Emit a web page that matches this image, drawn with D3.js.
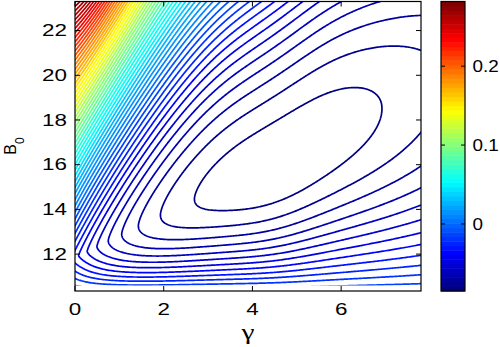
<!DOCTYPE html>
<html><head><meta charset="utf-8">
<script src="https://cdn.jsdelivr.net/npm/d3@7"></script>
<style>body{margin:0;background:#fff}svg{display:block}</style>
</head><body>
<svg id="c" width="500" height="347"></svg>
<script>
// ---------- values ----------
const xTicks = [0, 2, 4, 6];
const yTicks = [12, 14, 16, 18, 20, 22];
const cbTicks = [0, 0.1, 0.2];
const gammaRange = [0, 7.8];
const b0AxisRange = [10.35, 23.3];
const b0DataRange = [10.6, 23.3];
const colorRange = [-0.085, 0.282];
const levelCount = 56;                       // contour levels spanning the colour bar
// shape of the cost surface (in contour-level steps)
const valleyB0 = {a: 11.85, b: 1.0, c: -0.005, dip: 0.45, dipAt: 4.5, dipW: 1.2};
const valleyDepth = {A: 8.46, tau: 1.586, a: 0.078, g0: 2.62, v0: -0.55};
const upperSide = {aInf: 0.11, aFast: 1.98, tFast: 1.0, aSlow: 0.23, tSlow: 3.0, q0: 0.76, tq: 2.0};
const lowerSide = {top: 13, floorB0: 10.3, pw: 2.15, pwDrop: 1.0, tau: 0.8};

const levelStep = (colorRange[1] - colorRange[0]) / (levelCount - 1);
const levels = d3.range(levelCount).map(k => colorRange[0] + k * levelStep);

function cost(g, B) {
  const m = valleyB0.a + valleyB0.b * g + valleyB0.c * g * g - valleyB0.dip * Math.exp(-(((g - valleyB0.dipAt) / valleyB0.dipW) ** 2));
  const V = valleyDepth.A * Math.exp(-g / valleyDepth.tau) + valleyDepth.a * (g - valleyDepth.g0) ** 2 + valleyDepth.v0;
  const d = B - m;
  let L;
  if (d >= 0) {
    const A = upperSide.aInf + upperSide.aFast * Math.exp(-g / upperSide.tFast) + upperSide.aSlow * Math.exp(-g / upperSide.tSlow);
    const q = 2 - upperSide.q0 * Math.exp(-g / upperSide.tq);
    L = V + A * Math.pow(d, q);
  } else {
    const span = m - lowerSide.floorB0;
    const pw = lowerSide.pw - lowerSide.pwDrop * Math.exp(-g / lowerSide.tau);
    L = V + (lowerSide.top - V) * Math.pow(-d / span, pw);
  }
  return colorRange[0] + (L - 1) * levelStep;
}

// ---------- layout ----------
const svg = d3.select('#c');
const P = {l: 75, r: 421, t: 1.5, b: 291};
const CB = {l: 441, r: 465};
const x = d3.scaleLinear().domain(gammaRange).range([P.l, P.r]);
const y = d3.scaleLinear().domain(b0AxisRange).range([P.b, P.t]);
const cy = d3.scaleLinear().domain(colorRange).range([P.b, P.t]);

function jet(t) {
  t = Math.max(0, Math.min(1, t));
  t = Math.floor(t * 63.999) / 63;
  const c = v => Math.round(255 * Math.max(0, Math.min(1, v)));
  return `rgb(${c(1.5 - Math.abs(4 * t - 3))},${c(1.5 - Math.abs(4 * t - 2))},${c(1.5 - Math.abs(4 * t - 1))})`;
}
const colorOf = v => jet((v - colorRange[0]) / (colorRange[1] - colorRange[0]));

// ---------- contour field ----------
const nx = 260, ny = 320;
const g0 = -0.1, g1 = 7.9, bA = 10.5, bB = 23.5;
const dg = (g1 - g0) / (nx - 1), db = (bB - bA) / (ny - 1);
const vals = new Float64Array(nx * ny);
for (let j = 0; j < ny; j++) for (let i = 0; i < nx; i++) vals[j * nx + i] = cost(g0 + i * dg, bA + j * db);
const contours = d3.contours().size([nx, ny]).thresholds(levels)(vals);
const proj = d3.geoTransform({point(px, py) {
  this.stream.point(x(g0 + (px - 0.5) * dg), y(bA + (py - 0.5) * db));
}});
const path = d3.geoPath(proj);

svg.append('clipPath').attr('id', 'clip').append('rect')
  .attr('x', P.l).attr('y', P.t).attr('width', P.r - P.l).attr('height', y(b0DataRange[0]) - P.t);

svg.append('g').attr('clip-path', 'url(#clip)')
  .selectAll('path').data(contours).join('path')
  .attr('d', path).attr('fill', 'none')
  .attr('stroke', d => colorOf(d.value)).attr('stroke-width', 1.7)
  .attr('stroke-linejoin', 'round');

// ---------- frame and ticks ----------
const frame = svg.append('g').attr('stroke', '#000').attr('fill', 'none');
frame.append('rect').attr('x', P.l).attr('y', P.t).attr('width', P.r - P.l).attr('height', P.b - P.t).attr('stroke-width', 1.2);
const tl = 5;
xTicks.forEach(v => {
  frame.append('line').attr('x1', x(v)).attr('x2', x(v)).attr('y1', P.b).attr('y2', P.b - tl);
  frame.append('line').attr('x1', x(v)).attr('x2', x(v)).attr('y1', P.t).attr('y2', P.t + tl);
});
yTicks.forEach(v => {
  frame.append('line').attr('x1', P.l).attr('x2', P.l + tl).attr('y1', y(v)).attr('y2', y(v));
  frame.append('line').attr('x1', P.r).attr('x2', P.r - tl).attr('y1', y(v)).attr('y2', y(v));
});

const font = "'Liberation Sans', Arial, Helvetica, sans-serif";
function label(txt, px, py, anchor, size, sx) {
  return svg.append('text').attr('transform', `translate(${px},${py}) scale(${sx},1)`)
    .attr('text-anchor', anchor).attr('font-family', font).attr('font-size', size).attr('fill', '#000').text(txt);
}
xTicks.forEach(v => label(d3.format('d')(v), x(v), 315, 'middle', 16, 1.4));
yTicks.forEach(v => label(d3.format('d')(v), 67, y(v) + 5.8, 'end', 16, 1.4));

// axis titles
svg.append('text').attr('transform', `translate(248,339) scale(1.4,1)`)
  .attr('text-anchor', 'middle').attr('font-family', "'Liberation Serif', 'DejaVu Serif', serif")
  .attr('font-size', 21).text('γ');
const bl = svg.append('text').attr('transform', `translate(16,146) rotate(-90)`)
  .attr('text-anchor', 'middle').attr('font-family', font).attr('font-size', 16);
bl.append('tspan').text('B');
bl.append('tspan').attr('font-size', 12).attr('dy', 8).text('0');

// ---------- colour bar ----------
const nb = 64;
const cbg = svg.append('g');
d3.range(nb).forEach(k => {
  const v0 = colorRange[0] + (colorRange[1] - colorRange[0]) * k / nb;
  const v1 = colorRange[0] + (colorRange[1] - colorRange[0]) * (k + 1) / nb;
  cbg.append('rect').attr('x', CB.l).attr('width', CB.r - CB.l)
    .attr('y', cy(v1)).attr('height', cy(v0) - cy(v1) + 0.5)
    .attr('fill', jet((k + 0.5) / nb));
});
cbg.append('rect').attr('x', CB.l).attr('y', P.t).attr('width', CB.r - CB.l).attr('height', P.b - P.t)
  .attr('fill', 'none').attr('stroke', '#000').attr('stroke-width', 1.2);
cbTicks.forEach(v => {
  cbg.append('line').attr('x1', CB.l).attr('x2', CB.l + 4).attr('y1', cy(v)).attr('y2', cy(v)).attr('stroke', '#000');
  cbg.append('line').attr('x1', CB.r).attr('x2', CB.r - 4).attr('y1', cy(v)).attr('y2', cy(v)).attr('stroke', '#000');
  label(v === 0 ? '0' : d3.format('.1f')(v), 472.5, cy(v) + 5.8, 'start', 16, 1.18);
});
</script>
</body></html>
